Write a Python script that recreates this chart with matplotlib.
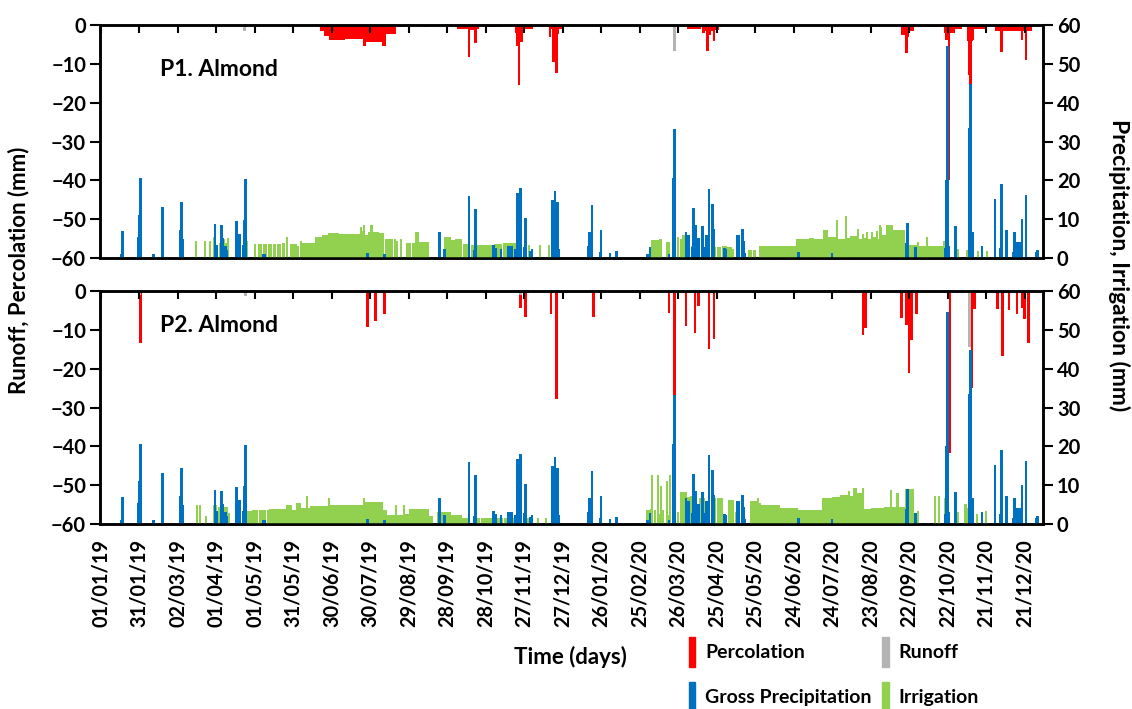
import numpy as np
import pandas as pd
import matplotlib
matplotlib.use('Agg')
import matplotlib.pyplot as plt
from matplotlib.patches import Patch

plt.rcParams['font.family'] = ['Lato', 'DejaVu Sans']
plt.rcParams['font.weight'] = 'bold'

# %%% data (day 0 = 01/01/2019, 731 days)
n_days = 731
tick_days = np.arange(0, 721, 30)
tick_labels = pd.date_range('2019-01-01', periods=len(tick_days), freq='30D').strftime('%d/%m/%y')

# gross precipitation (mm), same for both plots
rain_day = [16, 17, 29, 30, 31, 41, 48, 62, 63, 64, 89, 90, 94, 95, 96, 97, 98, 106, 107, 108,
            111, 112, 113, 127, 128, 208, 221, 264, 268, 287, 291, 292, 306, 308, 312, 318, 320,
            323, 325, 326, 327, 330, 331, 335, 336, 352, 353, 354, 356, 357, 380, 381, 383, 389,
            390, 397, 402, 426, 428, 443, 446, 447, 456, 458, 461, 462, 464, 466, 469, 471, 472,
            474, 477, 478, 486, 487, 496, 497, 500, 501, 502, 544, 570, 628, 629, 635, 658, 659,
            660, 661, 666, 677, 678, 680, 687, 697, 701, 702, 706, 711, 712, 713, 714, 715, 716,
            717, 718, 721, 729, 730]
rain_mm = [1.0, 7.0, 5.5, 11.0, 20.5, 1.0, 13.2, 7.2, 14.5, 5.0, 8.7, 3.3, 8.5, 5.1, 2.5, 3.0, 2.0, 9.4, 3.5, 6.2,
           3.3, 9.8, 20.3, 1.0, 1.0, 1.2, 1.0, 6.6, 2.4, 16.0, 2.0, 12.6, 3.4, 2.5, 2.4, 3.0, 3.0,
           2.2, 16.7, 14.0, 18.0, 2.9, 10.2, 1.9, 2.2, 15.0, 2.2, 17.3, 14.3, 2.2, 3.0, 6.6, 13.7, 1.5,
           7.2, 1.3, 1.8, 1.1, 2.9, 1.0, 20.5, 33.3, 6.6, 6.0, 2.8, 13.0, 8.5, 5.1, 8.3, 2.8, 5.9,
           17.7, 13.9, 7.5, 2.5, 2.3, 5.9, 5.9, 7.4, 4.4, 1.2, 1.6, 1.2, 3.8, 9.1, 2.8, 2.5, 20.0,
           54.5, 3.2, 8.2, 33.4, 44.8, 6.6, 3.2, 15.1, 2.5, 19.1, 7.1, 1.6, 6.6, 3.0, 4.2, 2.8, 4.0,
           2.2, 10.1, 16.2, 1.6, 2.1]

# P1 percolation (mm), runs of (first day, last day, value)
perc1_runs = [(172, 174, -1.5), (175, 178, -2.8), (179, 189, -3.8), (190, 204, -3.5), (205, 206, -5.3),
              (207, 219, -4.3), (220, 221, -5.3), (222, 229, -2.2), (230, 236, -0.6), (254, 254, -0.5),
              (279, 286, -1.0), (287, 287, -8.2), (288, 291, -1.2), (292, 292, -4.7), (293, 294, -1.0),
              (302, 312, -0.5), (324, 324, -2.0), (325, 325, -5.4), (326, 326, -15.5), (327, 327, -3.0),
              (328, 328, -4.5), (329, 336, -1.0), (350, 350, -3.0), (351, 352, -1.0), (353, 353, -9.4),
              (355, 355, -12.4), (356, 356, -2.4), (357, 360, -1.0),
              (458, 467, -1.0), (470, 470, -2.0), (471, 472, -1.5), (473, 473, -6.7), (474, 474, -2.0),
              (475, 475, -2.5), (476, 477, -1.5), (478, 478, -4.1), (479, 481, -1.2), (625, 627, -2.6),
              (628, 628, -7.3), (629, 629, -3.0), (630, 633, -1.5), (640, 653, -0.5), (658, 658, -2.0),
              (659, 659, -3.9), (661, 661, -40.0), (662, 665, -2.0), (666, 670, -1.0), (676, 676, -4.0),
              (677, 677, -13.0), (678, 678, -15.2), (679, 679, -4.0), (680, 680, -3.9), (681, 690, -1.0),
              (698, 701, -1.5), (702, 702, -6.9), (703, 717, -1.5), (718, 718, -3.9), (719, 720, -1.5),
              (721, 721, -9.0), (722, 725, -1.5)]

# P2 percolation (mm)
perc2_day = [31, 208, 214, 221, 327, 331, 351, 355, 384, 443, 447, 456, 463, 466, 474, 478, 594, 596,
             624, 628, 630, 632, 636, 662, 679, 681, 699, 703, 708, 714, 718, 720, 723]
perc2_mm = [-13.5, -9.2, -7.7, -5.9, -4.3, -6.6, -6.0, -27.9, -6.6, -5.7, -28.0, -8.9, -10.7, -3.9, -15.0,
            -12.4, -11.3, -9.5, -7.0, -8.8, -21.0, -12.6, -5.9, -41.6, -24.9, -4.6, -4.6, -16.8, -4.9,
            -5.9, -4.5, -7.3, -13.3]

# runoff (mm)
runoff1_day = [112, 447]
runoff1_mm = [-1.5, -6.7]
runoff2_day = [30, 113, 327, 677]
runoff2_mm = [-1.0, -1.3, -1.0, -14.3]

# irrigation (mm), runs of (first day, last day, value)
irr1_runs = [(74, 74, 4.4), (81, 81, 4.4), (85, 85, 4.4), (88, 88, 5.5), (93, 93, 3.8), (95, 95, 3.8),
             (96, 96, 5.0), (98, 98, 3.8), (99, 99, 5.2), (114, 114, 4.4), (120, 120, 3.5), (123, 123, 3.5),
             (125, 125, 3.5), (127, 129, 3.5), (131, 133, 3.5), (135, 136, 3.5), (138, 140, 3.6),
             (142, 143, 3.8), (145, 145, 5.3), (148, 149, 3.5), (151, 152, 3.5), (154, 154, 3.0),
             (156, 156, 4.4), (158, 162, 3.9), (164, 167, 3.9), (168, 172, 5.4), (173, 177, 6.0),
             (178, 185, 6.4), (186, 195, 6.1), (196, 202, 6.3), (203, 203, 7.9), (204, 204, 6.9),
             (205, 205, 8.6), (206, 208, 5.8), (209, 210, 6.6), (211, 211, 8.6), (212, 216, 6.8),
             (217, 220, 6.5), (222, 227, 5.0), (229, 229, 4.8), (231, 231, 4.5), (234, 234, 4.8),
             (239, 241, 3.8), (243, 245, 3.8), (246, 247, 6.8), (249, 251, 4.1), (253, 255, 4.1),
             (268, 272, 5.5), (273, 276, 4.6), (277, 281, 5.0), (283, 283, 3.5), (285, 286, 3.5),
             (289, 291, 3.3), (293, 296, 3.3), (298, 300, 3.3), (302, 305, 3.3), (307, 312, 3.6),
             (314, 318, 3.8), (320, 323, 3.9), (325, 325, 4.1), (334, 334, 3.3), (342, 342, 3.3),
             (349, 349, 3.3),
             (428, 428, 1.5), (430, 435, 4.6), (436, 437, 5.0), (441, 443, 4.2), (450, 450, 5.4),
             (452, 453, 5.0), (454, 455, 6.0), (461, 461, 3.2), (477, 479, 2.8), (481, 483, 2.8),
             (485, 487, 3.2), (489, 491, 2.8), (493, 493, 2.2), (505, 507, 2.0), (509, 510, 2.0),
             (514, 542, 3.2), (543, 552, 4.8), (553, 555, 5.2), (556, 563, 4.8), (564, 566, 7.2),
             (567, 573, 5.3), (574, 574, 9.8), (575, 580, 5.0), (581, 581, 10.8), (582, 584, 5.2),
             (585, 589, 5.6), (590, 590, 7.4), (591, 593, 5.0), (594, 594, 6.1), (595, 596, 5.2),
             (597, 597, 6.8), (598, 600, 5.0), (601, 601, 6.8), (602, 604, 5.5), (605, 605, 7.0),
             (606, 606, 5.0), (607, 607, 8.5), (608, 608, 7.9), (609, 612, 6.0), (613, 617, 8.5),
             (618, 626, 7.3), (627, 636, 3.3), (637, 637, 4.2), (638, 643, 3.0), (644, 644, 5.4),
             (645, 656, 3.0), (657, 657, 4.5), (668, 668, 2.2), (675, 675, 2.0), (684, 684, 1.7),
             (691, 691, 1.7)]

irr2_runs = [(75, 75, 4.8), (77, 77, 4.8), (82, 82, 2.1), (88, 90, 4.8), (92, 95, 4.5), (96, 98, 4.5),
             (100, 100, 2.8), (114, 117, 3.4), (119, 122, 3.5), (124, 128, 3.5), (130, 131, 3.5),
             (132, 144, 3.8), (145, 148, 4.9), (149, 152, 3.7), (153, 155, 5.4), (156, 160, 4.0),
             (161, 161, 7.3), (162, 163, 4.0), (164, 177, 4.6), (178, 178, 6.8), (179, 204, 4.9),
             (205, 205, 6.8), (206, 219, 5.6), (220, 222, 3.5), (223, 229, 2.4), (230, 230, 4.8),
             (231, 235, 2.4), (236, 236, 4.8), (237, 240, 2.6), (241, 255, 3.8), (256, 258, 2.1),
             (263, 272, 3.0), (274, 281, 2.3), (282, 286, 1.6), (293, 295, 1.6), (297, 300, 1.6),
             (302, 306, 1.6), (308, 313, 1.6), (315, 319, 1.6), (321, 324, 1.6), (333, 333, 1.6),
             (341, 341, 1.6), (347, 347, 1.6),
             (426, 428, 3.6), (429, 429, 3.8), (430, 430, 12.5), (432, 432, 3.6), (434, 434, 12.7),
             (435, 435, 2.5), (437, 437, 9.8), (438, 438, 3.6), (441, 441, 11.0), (442, 442, 2.3),
             (444, 444, 12.7), (446, 446, 2.8), (450, 450, 3.2), (452, 456, 8.2), (458, 459, 7.0),
             (460, 464, 7.2), (467, 470, 6.8), (474, 474, 6.9), (477, 479, 6.8), (481, 484, 6.6),
             (490, 493, 6.1), (495, 495, 3.0), (507, 511, 6.0), (512, 512, 6.8), (513, 514, 5.4),
             (515, 529, 5.0), (530, 543, 4.2), (544, 562, 3.6), (563, 570, 6.6), (571, 576, 7.0),
             (577, 582, 7.5), (583, 583, 8.6), (584, 586, 7.2), (587, 589, 9.2), (590, 593, 8.0),
             (594, 594, 9.3), (595, 600, 3.8), (601, 610, 4.0), (611, 615, 4.5), (616, 616, 8.7),
             (617, 620, 4.4), (621, 621, 8.0), (622, 627, 4.3), (628, 633, 9.0), (637, 637, 3.4),
             (650, 650, 7.2), (653, 653, 7.2), (658, 658, 6.8), (668, 668, 3.1), (674, 674, 5.2),
             (676, 676, 4.0), (683, 683, 2.5), (690, 690, 3.4)]


def daily(runs=None, days=None, vals=None):
    arr = np.zeros(n_days)
    if runs is not None:
        for s, e, v in runs:
            arr[s:e + 1] = v
    if days is not None:
        arr[np.array(days)] = vals
    return arr


panels = [
    dict(title='P1. Almond', perc=daily(runs=perc1_runs), runoff=daily(days=runoff1_day, vals=runoff1_mm),
         irr=daily(runs=irr1_runs), bottom=1 - 258 / 709, title_y=0.807),
    dict(title='P2. Almond', perc=daily(days=perc2_day, vals=perc2_mm), runoff=daily(days=runoff2_day, vals=runoff2_mm),
         irr=daily(runs=irr2_runs), bottom=1 - 524 / 709, title_y=0.854),
]
rain = daily(days=rain_day, vals=rain_mm)
days = np.arange(n_days)

RED, GREY, BLUE, GREEN = '#FF0000', '#B4B4B4', '#0070C0', '#92D050'
fs = 14.5

fig = plt.figure(figsize=(11.32, 7.09), dpi=100)

for i, p in enumerate(panels):
    ax = fig.add_axes([100 / 1132, p['bottom'], 943 / 1132, 233 / 709])
    ax2 = ax.twinx()

    m = p['perc'] != 0
    ax.bar(days[m], p['perc'][m], width=2.0, color=RED, linewidth=0)
    m = p['runoff'] != 0
    ax.bar(days[m], p['runoff'][m], width=2.0, color=GREY, linewidth=0)

    m = p['irr'] != 0
    ax2.bar(days[m], p['irr'][m], width=1.6, color=GREEN, linewidth=0)
    m = rain != 0
    ax2.bar(days[m], rain[m], width=2.0, color=BLUE, linewidth=0)

    ax.set_xlim(-0.6, 734.4)
    ax.set_ylim(-60, 0)
    ax2.set_ylim(0, 60)
    ax.set_yticks(np.arange(-60, 1, 10))
    ax2.set_yticks(np.arange(0, 61, 10))
    ax.set_xticks(tick_days)
    ax.set_xticklabels(tick_labels, rotation=90)
    ax.tick_params(axis='x', top=True, bottom=False, direction='in', length=6, width=1.5,
                   labeltop=False, labelbottom=(i == 1), labelsize=14.3, pad=11)
    ax.tick_params(axis='y', direction='out', length=7, width=1.5, labelsize=fs, pad=3)
    ax2.tick_params(axis='y', direction='out', length=7, width=1.5, labelsize=fs, pad=3)
    for a in (ax, ax2):
        for s in a.spines.values():
            s.set_linewidth(1.8)
    ax.text(0.064, p['title_y'], p['title'], transform=ax.transAxes, fontsize=16.5,
            fontweight='bold', va='center', ha='left')

fig.text(19 / 1132, 1 - 270 / 709, 'Runoff, Percolation (mm)', rotation=90, ha='center', va='center',
         fontsize=16, fontweight='bold')
fig.text(1119 / 1132, 1 - 265 / 709, 'Precipitation, Irrigation (mm)', rotation=270, ha='center',
         va='center', fontsize=16.5, fontweight='bold')
fig.text(570 / 1132, 1 - 657 / 709, 'Time (days)', ha='center', va='center', fontsize=16,
         fontweight='bold')

handles = [Patch(color=RED), Patch(color=BLUE), Patch(color=GREY), Patch(color=GREEN)]
labels = ['Percolation', 'Gross Precipitation', 'Runoff', 'Irrigation']
fig.legend(handles, labels, ncol=2, loc='upper left', bbox_to_anchor=(689 / 1132, 1 - 637 / 709),
           frameon=False, fontsize=14, handlelength=0.33, handleheight=2.0, handletextpad=0.5,
           columnspacing=0.55, labelspacing=0.75, borderpad=0, borderaxespad=0)

fig.savefig('out.png', dpi=100)
